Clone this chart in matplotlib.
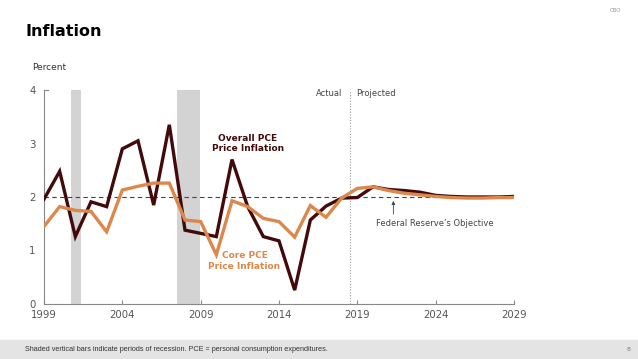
import numpy as np
import matplotlib
matplotlib.use("Agg")
import matplotlib.pyplot as plt
from matplotlib.patches import Rectangle

years = list(range(1999, 2030))
overall_pce = [1.96, 2.48, 1.26, 1.91, 1.82, 2.90, 3.05, 1.85, 3.35, 1.38,
               1.32, 1.26, 2.70, 1.82, 1.26, 1.18, 0.26, 1.57, 1.83, 1.98,
               1.99, 2.19, 2.14, 2.12, 2.09, 2.03, 2.01, 2.00, 2.00, 2.00, 2.01]
core_pce = [1.45, 1.82, 1.75, 1.73, 1.35, 2.13, 2.20, 2.26, 2.26, 1.57,
            1.54, 0.92, 1.93, 1.82, 1.60, 1.54, 1.25, 1.84, 1.62, 1.98,
            2.16, 2.19, 2.12, 2.07, 2.04, 2.01, 1.99, 1.98, 1.98, 1.99, 1.99]
recessions = [(2000.7, 2001.35), (2007.47, 2008.96)]
fed_objective = 2.0
split_year = 2018.5
xticks = [1999, 2004, 2009, 2014, 2019, 2024, 2029]

DARK = "#420a0a"
ORANGE = "#dc874c"
GRAY_TXT = "#555555"

fig = plt.figure(figsize=(6.38, 3.59), dpi=100)
ax = fig.add_axes([44 / 638, 1 - 304 / 359, 470 / 638, 214 / 359])

for x0, x1 in recessions:
    ax.axvspan(x0, x1, color="#d3d3d3", lw=0, zorder=0)

ax.axhline(fed_objective, color="#444444", lw=0.8, ls=(0, (4, 3)), zorder=1)
ax.axvline(split_year, color="#999999", lw=0.8, ls=(0, (1, 1.5)), zorder=1)

ax.plot(years, overall_pce, color=DARK, lw=2.4, zorder=3, solid_joinstyle="miter")
ax.plot(years, core_pce, color=ORANGE, lw=2.4, zorder=4, solid_joinstyle="miter")

ax.set_xlim(1999, 2029)
ax.set_ylim(0, 4)
ax.set_xticks(xticks)
ax.set_yticks([0, 1, 2, 3, 4])
ax.tick_params(axis="x", direction="in", length=3, color="#888888",
               labelsize=7.3, labelcolor=GRAY_TXT, pad=4)
ax.tick_params(axis="y", length=0, labelsize=7.3, labelcolor=GRAY_TXT, pad=6)
ax.plot([0, 0.008], [1, 1], transform=ax.transAxes, color="#888888",
        lw=0.8, clip_on=False)
for s in ["top", "right"]:
    ax.spines[s].set_visible(False)
for s in ["left", "bottom"]:
    ax.spines[s].set_color("#888888")
    ax.spines[s].set_linewidth(0.8)

ax.text(split_year - 0.45, 3.93, "Actual", ha="right", va="center",
        fontsize=6, color="#444444")
ax.text(split_year + 0.45, 3.93, "Projected", ha="left", va="center",
        fontsize=6, color="#444444")
ax.text(2012.0, 3.0, "Overall PCE\nPrice Inflation", ha="center", va="center",
        fontsize=6.5, fontweight="bold", color=DARK, linespacing=1.2)
ax.text(2011.8, 0.8, "Core PCE\nPrice Inflation", ha="center", va="center",
        fontsize=6.5, fontweight="bold", color=ORANGE, linespacing=1.2)
ax.annotate("", xy=(2021.3, 1.98), xytext=(2021.3, 1.63),
            arrowprops=dict(arrowstyle="-|>", color="#444444", lw=0.6,
                            mutation_scale=5))
ax.text(2020.2, 1.5, "Federal Reserve\u2019s Objective", ha="left", va="center",
        fontsize=6, color="#444444")

fig.text(25 / 638, 1 - 32 / 359, "Inflation", ha="left", va="center",
         fontsize=11.5, fontweight="heavy", color="black")
fig.text(32 / 638, 1 - 68 / 359, "Percent", ha="left", va="center",
         fontsize=6.5, color="#333333")
fig.text(615 / 638, 1 - 11 / 359, "CBO", ha="center", va="center",
         fontsize=4, color="#999999")

fig.patches.append(Rectangle((0, 0), 1, 19 / 359, transform=fig.transFigure,
                             color="#e4e4e4", zorder=0))
fig.text(25 / 638, 9.5 / 359,
         "Shaded vertical bars indicate periods of recession. PCE = personal consumption expenditures.",
         ha="left", va="center", fontsize=5.2, color="#333333",
         family="Liberation Sans")
fig.text(629 / 638, 9.5 / 359, "8", ha="center", va="center",
         fontsize=4.5, color="#777777")

fig.savefig("out.png", dpi=100)
